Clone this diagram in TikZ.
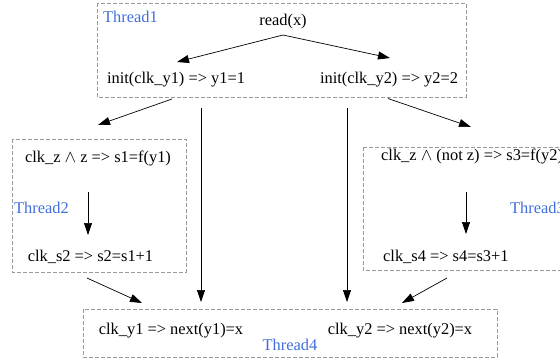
\documentclass[tikz,border=0pt]{standalone}
\usepackage{fontspec}
\setmainfont{Liberation Serif}
\usetikzlibrary{arrows.meta,calc}
\definecolor{threadblue}{RGB}{65,110,220}

\begin{document}
\begin{tikzpicture}[x=1pt,y=-1pt,
  txt/.style={inner sep=0pt,font=\fontsize{16.4}{19}\selectfont},
  tlabel/.style={txt,text=threadblue},
  cluster/.style={draw=gray!80,dash pattern=on 4pt off 2pt,line width=0.7pt},
  edge/.style={-{Triangle[length=12pt,width=8pt]},line width=0.7pt}]
  \useasboundingbox (0,0) rectangle (560,360);
  \clip (0,0) rectangle (560,360);

  % thread boxes
  \draw[cluster] (97,3) rectangle (466,97);
  \draw[cluster] (12,139) rectangle (186,272);
  \draw[cluster] (363,147) rectangle (620,270);
  \draw[cluster] (83,309) rectangle (497,357);

  \node[tlabel,anchor=west] (lab1) at (103,17) {Thread1};
  \node[tlabel,anchor=west] (lab2) at (14,208) {Thread2};
  \node[tlabel,anchor=west] (lab3) at (510,208) {Thread3};
  \node[tlabel] (lab4) at (290,345) {Thread4};

  % statements
  \node[txt] (readx) at (283,21.5) {read(x)};
  \node[txt] (init1) at (176,79.5) {init(clk\_y1) => y1=1};
  \node[txt] (init2) at (389,79.5) {init(clk\_y2) => y2=2};
  \node[txt] (clkz1) at (98,158) {clk\_z $\wedge$ z => s1=f(y1)};
  \node[txt] (clks2) at (90.5,257) {clk\_s2 => s2=s1+1};
  \node[txt,anchor=west] (clkz2) at (381,156) {clk\_z $\wedge$ (not z) => s3=f(y2)};
  \node[txt,anchor=west] (clks4) at (383,257) {clk\_s4 => s4=s3+1};
  \node[txt] (next1) at (171,331) {clk\_y1 => next(y1)=x};
  \node[txt] (next2) at (400,331) {clk\_y2 => next(y2)=x};

  % dependencies
  \draw[edge] ($(readx)+(0,13.5)$) -- ($(init1)+(1,-17.5)$);
  \draw[edge] ($(readx)+(0,13.5)$) -- ($(init2)+(1,-21.5)$);
  \draw[edge] ($(init1)+(-4,19.5)$) -- ($(clkz1)+(0,-33)$);
  \draw[edge] ($(init1)+(25,28.5)$) -- ($(next1)+(30,-29)$);
  \draw[edge] ($(init2)+(-1,19)$) -- ($(clkz2.west)+(90,-29)$);
  \draw[edge] ($(init2)+(-42,28.5)$) -- ($(next2)+(-53,-29)$);
  \draw[edge] ($(clkz1)+(-10,34)$) -- ($(clks2)+(-2.5,-22)$);
  \draw[edge] ($(clkz2.west)+(85,36)$) -- ($(clks4.west)+(83,-23)$);
  \draw[edge] ($(clks2)+(-3.5,21)$) -- ($(next1)+(-29,-28)$);
  \draw[edge] ($(clks4.west)+(64,21)$) -- ($(next2)+(2,-28)$);
\end{tikzpicture}
\end{document}
